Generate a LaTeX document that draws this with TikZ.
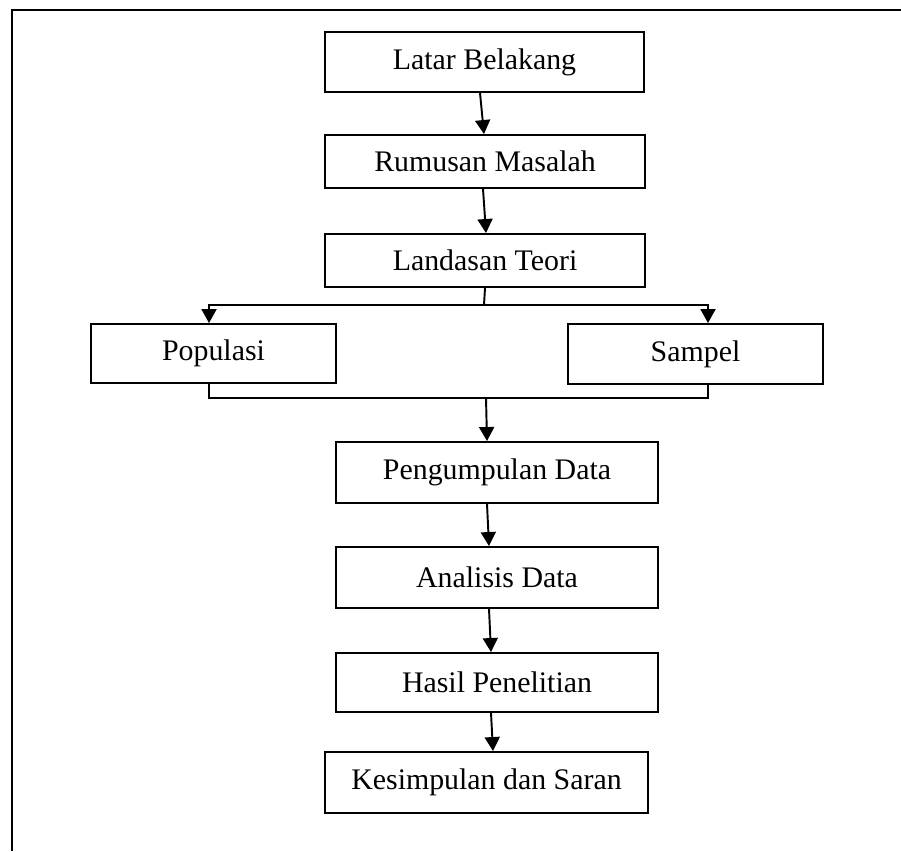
\documentclass[tikz,border=0pt]{standalone}
\usepackage{fontspec}
\setmainfont{Liberation Serif}
\usetikzlibrary{arrows.meta}
\begin{document}
\begin{tikzpicture}[x=0.02cm,y=-0.02cm,
	box/.style={draw,line width=1.1pt,inner sep=0pt},
	arr/.style={line width=1.1pt,-{Triangle[length=0.28cm,width=0.3cm]}}]
\fontsize{17}{20}\selectfont
\useasboundingbox (0,0) rectangle (901,851);
\draw[line width=1.1pt] (12,851) -- (12,10) -- (901,10);
\node[box,minimum width=6.38cm,minimum height=1.2cm] (latar) at (484.5,62) {Latar Belakang};
\node[box,minimum width=6.4cm,minimum height=1.06cm] (rumusan) at (485,161.5) {Rumusan Masalah};
\node[box,minimum width=6.4cm,minimum height=1.06cm] (landasan) at (485,260.5) {Landasan Teori};
\node[box,minimum width=4.9cm,minimum height=1.18cm] (populasi) at (213.5,353.5) {Populasi};
\node[box,minimum width=5.1cm,minimum height=1.2cm] (sampel) at (695.5,354) {Sampel};
\node[box,minimum width=6.44cm,minimum height=1.22cm] (pengumpulan) at (497,472.5) {Pengumpulan Data};
\node[box,minimum width=6.44cm,minimum height=1.22cm] (analisis) at (497,577.5) {Analisis Data};
\node[box,minimum width=6.44cm,minimum height=1.18cm] (hasil) at (497,682.5) {Hasil Penelitian};
\node[box,minimum width=6.46cm,minimum height=1.22cm] (kesimpulan) at (486.5,782.5) {Kesimpulan dan Saran};
\coordinate (split) at (484,305);
\coordinate (join) at (486,398);
\draw[line width=1.1pt] (landasan.south) -- (split);
\draw[arr] (split) -| ([xshift=-0.09cm]populasi.north);
\draw[arr] (split) -| ([xshift=0.25cm]sampel.north);
\draw[line width=0.8pt] ([xshift=-0.09cm]populasi.south) |- (join) -| ([xshift=0.25cm]sampel.south);
\draw[arr] (join) -- ([xshift=-0.2cm]pengumpulan.north);
\foreach \a/\b/\sa/\sb in {latar/rumusan/-0.09/-0.02,rumusan/landasan/-0.04/0.02,
	pengumpulan/analisis/-0.2/-0.16,analisis/hasil/-0.16/-0.12,hasil/kesimpulan/-0.12/0.13}{
	\draw[arr] ([xshift=\sa cm]\a.south) -- ([xshift=\sb cm]\b.north);}
\end{tikzpicture}
\end{document}
